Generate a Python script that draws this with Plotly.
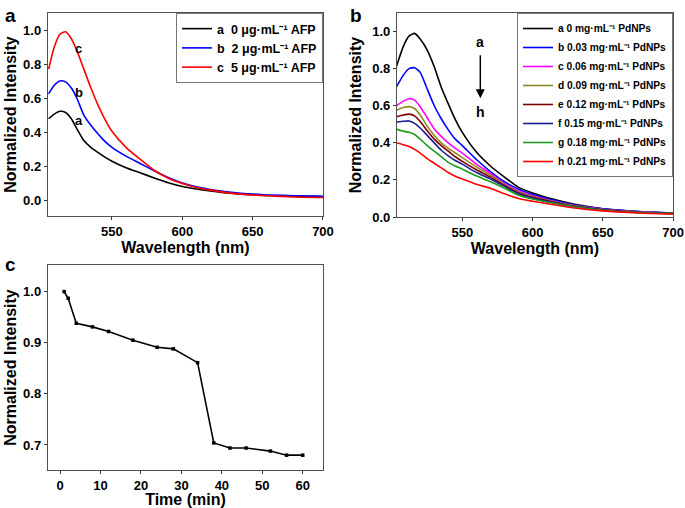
import plotly.graph_objects as go

# ---------- Panel a data ----------
wl_a = [505, 509, 513, 517, 521, 525, 530, 535, 540, 545, 550, 560, 570, 580, 590,
        600, 610, 620, 630, 640, 650, 660, 680, 700]
afp_0 = [0.478, 0.505, 0.522, 0.515, 0.48, 0.42, 0.35, 0.31, 0.28, 0.252, 0.228, 0.19,
         0.16, 0.13, 0.102, 0.08, 0.065, 0.053, 0.043, 0.036, 0.031, 0.027, 0.023, 0.02]
afp_2 = [0.625, 0.675, 0.70, 0.695, 0.66, 0.60, 0.50, 0.44, 0.39, 0.345, 0.31, 0.258,
         0.215, 0.172, 0.132, 0.10, 0.078, 0.062, 0.05, 0.041, 0.035, 0.03, 0.025, 0.022]
afp_5 = [0.77, 0.90, 0.975, 0.99, 0.95, 0.88, 0.77, 0.66, 0.56, 0.475, 0.405, 0.31,
         0.24, 0.175, 0.128, 0.097, 0.074, 0.058, 0.045, 0.036, 0.03, 0.025, 0.018, 0.015]
labels_a = ["a  0 μg·mL⁻¹ AFP", "b  2 μg·mL⁻¹ AFP", "c  5 μg·mL⁻¹ AFP"]
colors_a = ["#000000", "#0000ff", "#ff0000"]

# ---------- Panel b data ----------
wl_b = [503, 508, 512, 516, 520, 525, 530, 535, 540, 545, 550, 560, 570, 580, 590,
        600, 615, 630, 650, 675, 700]
pd_a = [0.81, 0.92, 0.975, 0.99, 0.96, 0.90, 0.81, 0.70, 0.61, 0.525, 0.456, 0.35, 0.275,
        0.215, 0.16, 0.13, 0.095, 0.068, 0.045, 0.03, 0.022]
pd_b = [0.70, 0.765, 0.80, 0.805, 0.78, 0.69, 0.60, 0.53, 0.47, 0.42, 0.385, 0.31, 0.245,
        0.19, 0.15, 0.122, 0.09, 0.065, 0.044, 0.03, 0.022]
pd_c = [0.60, 0.625, 0.638, 0.63, 0.595, 0.535, 0.475, 0.435, 0.40, 0.37, 0.345, 0.285,
        0.235, 0.18, 0.14, 0.115, 0.085, 0.062, 0.042, 0.028, 0.02]
pd_d = [0.575, 0.59, 0.595, 0.585, 0.55, 0.49, 0.44, 0.40, 0.37, 0.345, 0.32, 0.27, 0.225,
        0.175, 0.135, 0.11, 0.082, 0.06, 0.04, 0.027, 0.02]
pd_e = [0.54, 0.55, 0.555, 0.545, 0.515, 0.465, 0.42, 0.385, 0.355, 0.325, 0.30, 0.255,
        0.215, 0.17, 0.13, 0.106, 0.08, 0.058, 0.039, 0.026, 0.019]
pd_f = [0.512, 0.516, 0.518, 0.505, 0.48, 0.44, 0.40, 0.36, 0.33, 0.305, 0.285, 0.24,
        0.205, 0.165, 0.125, 0.102, 0.077, 0.056, 0.038, 0.025, 0.019]
pd_g = [0.474, 0.463, 0.457, 0.445, 0.42, 0.385, 0.355, 0.325, 0.295, 0.275, 0.258, 0.222,
        0.19, 0.155, 0.118, 0.097, 0.074, 0.054, 0.036, 0.024, 0.018]
pd_h = [0.40, 0.39, 0.38, 0.365, 0.345, 0.315, 0.29, 0.265, 0.24, 0.22, 0.205, 0.177,
        0.155, 0.125, 0.10, 0.085, 0.066, 0.049, 0.033, 0.022, 0.016]
series_b = [pd_a, pd_b, pd_c, pd_d, pd_e, pd_f, pd_g, pd_h]
labels_b = ["a 0 mg·mL⁻¹ PdNPs", "b 0.03 mg·mL⁻¹ PdNPs",
            "c 0.06 mg·mL⁻¹ PdNPs", "d 0.09 mg·mL⁻¹ PdNPs",
            "e 0.12 mg·mL⁻¹ PdNPs", "f 0.15 mg·mL⁻¹ PdNPs",
            "g 0.18 mg·mL⁻¹ PdNPs", "h 0.21 mg·mL⁻¹ PdNPs"]
colors_b = ["#000000", "#0000ff", "#ff00ff", "#8c8a1e", "#800000", "#1c1c96", "#1e9a1e", "#ff0000"]

# ---------- Panel c data ----------
time_min = [1, 2, 4, 8, 12, 18, 24, 28, 34, 38, 42, 46, 52, 56, 60]
intensity_c = [1.0, 0.987, 0.938, 0.931, 0.922, 0.905, 0.891, 0.888, 0.861, 0.704,
               0.694, 0.694, 0.688, 0.680, 0.680]

# ---------- axis ranges and ticks ----------
range_a_x, range_a_y = [504.5, 700], [-0.094, 1.1]
range_b_x, range_b_y = [503.5, 700], [0, 1.1]
range_c_x, range_c_y = [-3, 65], [0.651, 1.052]
ticks_wl = [550, 600, 650, 700]
ticks_int = [0, 0.2, 0.4, 0.6, 0.8, 1.0]
ticks_time = [0, 10, 20, 30, 40, 50, 60]
ticks_int_c = [0.7, 0.8, 0.9, 1.0]

FONT = "Liberation Sans, Arial, sans-serif"
fig = go.Figure()

for y, name, col in zip([afp_0, afp_2, afp_5], labels_a, colors_a):
    fig.add_trace(go.Scatter(x=wl_a, y=y, mode="lines", name="<b>" + name + "</b>",
                             line=dict(color=col, width=1.6, shape="spline", smoothing=0.6),
                             xaxis="x", yaxis="y", legend="legend"))

for y, name, col in zip(series_b, labels_b, colors_b):
    fig.add_trace(go.Scatter(x=wl_b, y=y, mode="lines", name="<b>" + name + "</b>",
                             line=dict(color=col, width=1.6, shape="spline", smoothing=0.6),
                             xaxis="x2", yaxis="y2", legend="legend2"))

fig.add_trace(go.Scatter(x=time_min, y=intensity_c, mode="lines+markers", showlegend=False,
                         line=dict(color="#000000", width=1.6),
                         marker=dict(symbol="square", size=3.5, color="#000000"),
                         xaxis="x3", yaxis="y3"))


def ax(**kw):
    base = dict(showline=True, linecolor="#505050", linewidth=1.3, mirror=True,
                ticks="outside", ticklen=3, tickwidth=1, tickcolor="#333333",
                showgrid=False, zeroline=False, automargin=False,
                tickfont=dict(family=FONT, size=13, color="#000000", weight="bold"))
    base.update(kw)
    return base


def ttl(text, standoff):
    return dict(text=text, standoff=standoff,
                font=dict(family=FONT, size=16, color="#000000", weight="bold"))


dom_a_x, dom_a_y = [0.070, 0.4715], [0.5748, 0.9744]
dom_b_x, dom_b_y = [0.5796, 0.9825], [0.5728, 0.9744]
dom_c_x, dom_c_y = [0.070, 0.4715], [0.0748, 0.4783]

fig.update_layout(
    template="none",
    width=685, height=508, margin=dict(l=0, r=0, t=0, b=0),
    paper_bgcolor="white", plot_bgcolor="white",
    font=dict(family=FONT, color="#000000"),
    xaxis=ax(domain=dom_a_x, anchor="y", range=range_a_x,
             tickvals=ticks_wl, title=ttl("Wavelength (nm)", 2)),
    yaxis=ax(domain=dom_a_y, anchor="x", range=range_a_y,
             tickvals=ticks_int, tickformat=".1f",
             title=ttl("Normalized Intensity", 2)),
    xaxis2=ax(domain=dom_b_x, anchor="y2", range=range_b_x,
              tickvals=ticks_wl, title=ttl("Wavelength (nm)", 2)),
    yaxis2=ax(domain=dom_b_y, anchor="x2", range=range_b_y,
              tickvals=ticks_int, tickformat=".1f",
              title=ttl("Normalized Intensity", 6)),
    xaxis3=ax(domain=dom_c_x, anchor="y3", range=range_c_x,
              tickvals=ticks_time, title=ttl("Time (min)", 1)),
    yaxis3=ax(domain=dom_c_y, anchor="x3", range=range_c_y,
              tickvals=ticks_int_c, tickformat=".1f",
              title=ttl("Normalized Intensity", 2)),
    legend=dict(x=dom_a_x[1], xanchor="right", y=dom_a_y[1], yanchor="top",
                bordercolor="#777777", borderwidth=1, bgcolor="white",
                font=dict(family=FONT, size=12.5, color="#000000"),
                itemwidth=30, tracegroupgap=0),
    legend2=dict(x=dom_b_x[1], xanchor="right", y=dom_b_y[1], yanchor="top",
                 bordercolor="#777777", borderwidth=1, bgcolor="white",
                 font=dict(family=FONT, size=10.2, color="#000000"),
                 itemwidth=30, tracegroupgap=0),
)

annotations = [
    dict(text="<b>a</b>", x=0.004, y=0.995, xref="paper", yref="paper", showarrow=False,
         xanchor="left", yanchor="top", font=dict(family=FONT, size=19)),
    dict(text="<b>b</b>", x=0.508, y=0.995, xref="paper", yref="paper", showarrow=False,
         xanchor="left", yanchor="top", font=dict(family=FONT, size=19)),
    dict(text="<b>c</b>", x=0.004, y=0.503, xref="paper", yref="paper", showarrow=False,
         xanchor="left", yanchor="top", font=dict(family=FONT, size=19)),
    dict(text="<b>c</b>", x=526.5, y=0.894, xref="x", yref="y", showarrow=False,
         font=dict(family=FONT, size=13)),
    dict(text="<b>b</b>", x=526.5, y=0.635, xref="x", yref="y", showarrow=False,
         font=dict(family=FONT, size=13)),
    dict(text="<b>a</b>", x=526.5, y=0.47, xref="x", yref="y", showarrow=False,
         font=dict(family=FONT, size=13)),
    dict(text="<b>a</b>", x=562.8, y=0.946, xref="x2", yref="y2", showarrow=False,
         font=dict(family=FONT, size=14)),
    dict(text="<b>h</b>", x=562.8, y=0.565, xref="x2", yref="y2", showarrow=False,
         font=dict(family=FONT, size=14)),
    dict(text="", x=562.8, y=0.64, ax=562.8, ay=0.88, xref="x2", yref="y2",
         axref="x2", ayref="y2", showarrow=True, arrowhead=2, arrowsize=1.2,
         arrowwidth=1.5, arrowcolor="#000000"),
]
fig.update_layout(annotations=annotations)

fig.write_html("out.html", config={"displayModeBar": False},
               post_script="document.body.style.margin='0';document.body.style.padding='0';")
